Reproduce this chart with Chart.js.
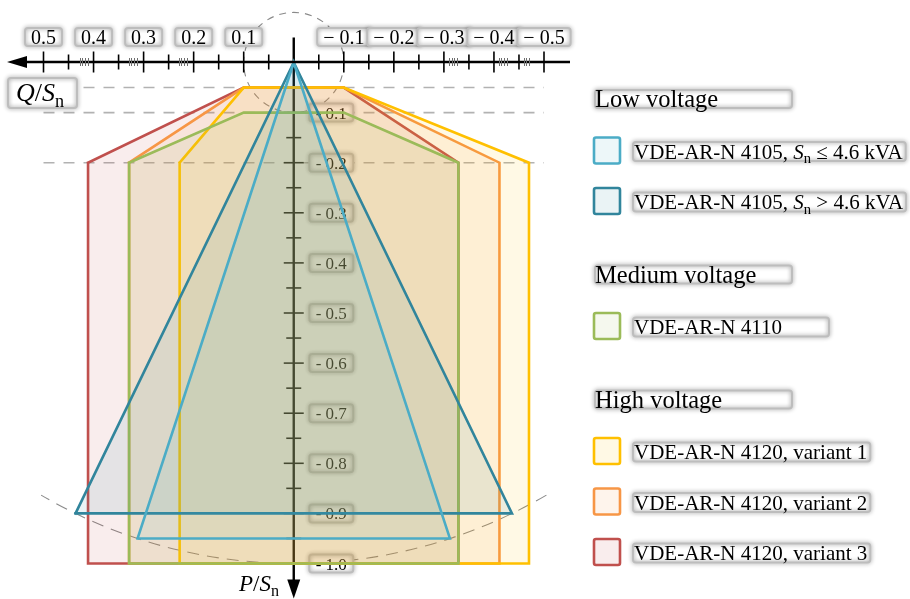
<!DOCTYPE html>
<html>
<head>
<meta charset="utf-8">
<script src="https://cdn.jsdelivr.net/npm/chart.js@4.4.1/dist/chart.umd.min.js"></script>
<style>
  html, body { margin: 0; padding: 0; background: #fff; overflow: hidden; }
  canvas { display: block; }
</style>
</head>
<body>
<canvas id="pq" width="910" height="599"></canvas>
<script>
// Reactive power Q/Sn runs right-to-left across the top, active power P/Sn runs downward.
const qTickValues = [0.5, 0.4, 0.3, 0.2, 0.1, -0.1, -0.2, -0.3, -0.4, -0.5];
const qTickLabels = ['0.5', '0.4', '0.3', '0.2', '0.1', '\u2212 0.1', '\u2212 0.2', '\u2212 0.3', '\u2212 0.4', '\u2212 0.5'];
const qFineTicks = [0.428, 0.423, 0.418, 0.412, 0.330, 0.325, 0.319, 0.314, 0.230, 0.225, 0.220, 0.214,
                    -0.311, -0.316, -0.321, -0.327, -0.410, -0.415, -0.421, -0.426, -0.460, -0.465, -0.470];
const pTickValues = [0.1, 0.2, 0.3, 0.4, 0.5, 0.6, 0.7, 0.8, 0.9, 1.0];
const pTickLabels = ['- 0.1', '- 0.2', '- 0.3', '- 0.4', '- 0.5', '- 0.6', '- 0.7', '- 0.8', '- 0.9', '- 1.0'];
const pGuideLines = [0.05, 0.1, 0.2];
const qAxisTitle = '$Q$/$S_n$';
const pAxisTitle = '$P$/$S_n$';

const groupTitles = ['Low voltage', 'Medium voltage', 'High voltage'];
const seriesLabels = [
  'VDE-AR-N 4105, $S_n$ \u2264 4.6 kVA',
  'VDE-AR-N 4105, $S_n$ > 4.6 kVA',
  'VDE-AR-N 4110',
  'VDE-AR-N 4120, variant 1',
  'VDE-AR-N 4120, variant 2',
  'VDE-AR-N 4120, variant 3'
];
const seriesGroup = [0, 0, 1, 2, 2, 2];
const seriesColors = ['#4bacc6', '#31859c', '#9bbb59', '#ffc000', '#f79646', '#c0504d'];

// Operating ranges as closed polygons (Q/Sn, P/Sn)
const lv4105SmallQ = [0.312, 0, -0.312, 0.312];
const lv4105SmallP = [0.95, 0, 0.95, 0.95];
const lv4105LargeQ = [0.436, 0, -0.436, 0.436];
const lv4105LargeP = [0.90, 0, 0.90, 0.90];
const mv4110Q = [0.329, 0.1, -0.1, -0.329, -0.329, 0.329, 0.329];
const mv4110P = [0.20, 0.10, 0.10, 0.20, 1.0, 1.0, 0.20];
const hv4120v1Q = [0.228, 0.1, -0.1, -0.470, -0.470, 0.228, 0.228];
const hv4120v1P = [0.20, 0.05, 0.05, 0.20, 1.0, 1.0, 0.20];
const hv4120v2Q = [0.329, 0.1, -0.1, -0.411, -0.411, 0.329, 0.329];
const hv4120v2P = [0.20, 0.05, 0.05, 0.20, 1.0, 1.0, 0.20];
const hv4120v3Q = [0.411, 0.1, -0.1, -0.329, -0.329, 0.411, 0.411];
const hv4120v3P = [0.20, 0.05, 0.05, 0.20, 1.0, 1.0, 0.20];

const seriesQ = [lv4105SmallQ, lv4105LargeQ, mv4110Q, hv4120v1Q, hv4120v2Q, hv4120v3Q];
const seriesP = [lv4105SmallP, lv4105LargeP, mv4110P, hv4120v1P, hv4120v2P, hv4120v3P];

const SERIF = '"Liberation Serif", "Times New Roman", serif';

function tint(hex, a) {
  const n = parseInt(hex.slice(1), 16);
  return `rgba(${(n >> 16) & 255}, ${(n >> 8) & 255}, ${n & 255}, ${a})`;
}

// Text with $...$ math parts: letters italic, _x subscript
function parseRich(str) {
  const segs = [];
  str.split('$').forEach((part, i) => {
    if (!part) return;
    if (i % 2 === 0) { segs.push({ text: part, italic: false, sub: false }); return; }
    for (let k = 0; k < part.length; k++) {
      const ch = part[k];
      if (ch === '_') { segs.push({ text: part[k + 1], italic: false, sub: true }); k++; }
      else segs.push({ text: ch, italic: /[A-Za-z]/.test(ch), sub: false });
    }
  });
  return segs;
}
function segFont(seg, size) {
  return (seg.italic ? 'italic ' : '') + (seg.sub ? size * 0.7 : size) + 'px ' + SERIF;
}
function richWidth(ctx, str, size) {
  let w = 0;
  parseRich(str).forEach(s => { ctx.font = segFont(s, size); w += ctx.measureText(s.text).width; });
  return w;
}
function drawRich(ctx, str, x, y, size, color, align) {
  const w = richWidth(ctx, str, size);
  let cx = align === 'center' ? x - w / 2 : align === 'right' ? x - w : x;
  ctx.save();
  ctx.fillStyle = color;
  ctx.textAlign = 'left';
  ctx.textBaseline = 'alphabetic';
  parseRich(str).forEach(s => {
    ctx.font = segFont(s, size);
    ctx.fillText(s.text, cx, y + (s.sub ? size * 0.22 : 0));
    cx += ctx.measureText(s.text).width;
  });
  ctx.restore();
  return w;
}
function roundRectPath(ctx, x, y, w, h, r) {
  ctx.beginPath();
  ctx.moveTo(x + r, y);
  ctx.lineTo(x + w - r, y); ctx.quadraticCurveTo(x + w, y, x + w, y + r);
  ctx.lineTo(x + w, y + h - r); ctx.quadraticCurveTo(x + w, y + h, x + w - r, y + h);
  ctx.lineTo(x + r, y + h); ctx.quadraticCurveTo(x, y + h, x, y + h - r);
  ctx.lineTo(x, y + r); ctx.quadraticCurveTo(x, y, x + r, y);
  ctx.closePath();
}
// Soft-edged label plate
function drawTag(ctx, x, y, w, h) {
  ctx.save();
  roundRectPath(ctx, x, y, w, h, 3);
  ctx.fillStyle = '#ffffff';
  ctx.fill();
  ctx.shadowColor = 'rgba(0,0,0,0.45)';
  ctx.shadowBlur = 4;
  ctx.strokeStyle = '#bdbdbd';
  ctx.lineWidth = 2;
  ctx.stroke();
  ctx.restore();
}

// Guides, the P axis and its labels sit beneath the translucent ranges
const underlayPlugin = {
  id: 'underlay',
  beforeDatasetsDraw(chart) {
    const ctx = chart.ctx, xs = chart.scales.x, ys = chart.scales.y;
    const x0 = xs.getPixelForValue(0), y0 = ys.getPixelForValue(0);
    const R = ys.getPixelForValue(1) - y0;
    ctx.save();
    // horizontal guides
    ctx.strokeStyle = '#b2b2b2';
    ctx.lineWidth = 1.6;
    ctx.setLineDash([11, 9]);
    pGuideLines.forEach(p => {
      const y = ys.getPixelForValue(p);
      ctx.beginPath();
      ctx.moveTo(xs.getPixelForValue(0.5), y);
      ctx.lineTo(xs.getPixelForValue(-0.5), y);
      ctx.stroke();
    });
    // circles |S| = 0.1 and |S| = 1
    ctx.strokeStyle = '#8a8a8a';
    ctx.lineWidth = 1.1;
    ctx.setLineDash([7, 6]);
    ctx.beginPath();
    ctx.arc(x0, y0, 0.1 * R, 0, Math.PI * 2);
    ctx.stroke();
    ctx.setLineDash([12, 8]);
    ctx.beginPath();
    ctx.arc(x0, y0, R, Math.PI / 3 - 0.005, 2 * Math.PI / 3 + 0.005);
    ctx.stroke();
    ctx.setLineDash([]);
    // P axis
    ctx.strokeStyle = '#000';
    ctx.lineWidth = 2.4;
    ctx.beginPath();
    ctx.moveTo(x0, y0 - 25);
    ctx.lineTo(x0, ys.getPixelForValue(1) + 20);
    ctx.stroke();
    ctx.lineWidth = 1.6;
    for (let k = 1; k <= 20; k++) {
      const y = ys.getPixelForValue(k * 0.05);
      const major = k % 2 === 0;
      ctx.beginPath();
      ctx.moveTo(x0 - (major ? 10 : 7.5), y);
      ctx.lineTo(x0 + (major ? 10 : 7.5), y);
      ctx.stroke();
    }
    pTickValues.forEach((p, i) => {
      const y = ys.getPixelForValue(p);
      drawTag(ctx, x0 + 15.5, y - 9, 44, 18);
      drawRich(ctx, pTickLabels[i], x0 + 37.5, y + 6, 17, '#000', 'center');
    });
    ctx.restore();
  },
  beforeDatasetDraw(chart, args) {
    const ctx = chart.ctx;
    const ds = chart.data.datasets[args.index];
    const pts = args.meta.data;
    ctx.save();
    ctx.beginPath();
    pts.forEach((pt, k) => (k ? ctx.lineTo(pt.x, pt.y) : ctx.moveTo(pt.x, pt.y)));
    ctx.closePath();
    ctx.fillStyle = ds.backgroundColor;
    ctx.fill();
    ctx.restore();
  }
};

// Q axis, arrows, axis titles
const overlayPlugin = {
  id: 'overlay',
  afterDatasetsDraw(chart) {
    const ctx = chart.ctx, xs = chart.scales.x, ys = chart.scales.y;
    const x0 = xs.getPixelForValue(0), y0 = ys.getPixelForValue(0);
    const xl = xs.getPixelForValue(0.5), xr = xs.getPixelForValue(-0.5);
    ctx.save();
    ctx.strokeStyle = '#000';
    ctx.fillStyle = '#000';
    ctx.lineWidth = 2.4;
    ctx.beginPath();
    ctx.moveTo(xl - 18, y0 - 0.5);
    ctx.lineTo(xr + 26, y0 - 0.5);
    ctx.stroke();
    // arrow heads
    ctx.beginPath();
    ctx.moveTo(xl - 36.5, y0 - 0.5);
    ctx.lineTo(xl - 16.5, y0 - 6.5);
    ctx.lineTo(xl - 16.5, y0 + 5.5);
    ctx.closePath();
    ctx.fill();
    const yb = ys.getPixelForValue(1);
    ctx.beginPath();
    ctx.moveTo(x0, yb + 35);
    ctx.lineTo(x0 - 6.5, yb + 16);
    ctx.lineTo(x0 + 6.5, yb + 16);
    ctx.closePath();
    ctx.fill();
    // Q ticks
    ctx.lineWidth = 1.6;
    for (let k = -10; k <= 10; k++) {
      if (k === 0) continue;
      const x = xs.getPixelForValue(k * 0.05);
      const h = k % 2 === 0 ? 10.5 : 7.5;
      ctx.beginPath();
      ctx.moveTo(x, y0 - 0.5 - h);
      ctx.lineTo(x, y0 - 0.5 + h);
      ctx.stroke();
    }
    ctx.strokeStyle = '#6e6e6e';
    ctx.lineWidth = 1;
    qFineTicks.forEach(q => {
      const x = Math.round(xs.getPixelForValue(q)) + 0.5;
      ctx.beginPath();
      ctx.moveTo(x, y0 - 4.5);
      ctx.lineTo(x, y0 + 3.5);
      ctx.stroke();
    });
    // Q tick labels
    qTickValues.forEach((q, i) => {
      const x = xs.getPixelForValue(q);
      const w = richWidth(ctx, qTickLabels[i], 20) + 12;
      drawTag(ctx, x - w / 2, 28, w, 18);
      drawRich(ctx, qTickLabels[i], x, 44, 20, '#000', 'center');
    });
    // axis titles
    drawTag(ctx, 8, 78, 69, 30);
    drawRich(ctx, qAxisTitle, 40, 101, 26, '#000', 'center');
    drawRich(ctx, pAxisTitle, 279, 591, 23, '#000', 'right');
    ctx.restore();
  }
};

// Grouped legend on the right
const groupedLegendPlugin = {
  id: 'groupedLegend',
  afterDraw(chart) {
    const ctx = chart.ctx;
    const sets = chart.data.datasets;
    let y = 100;
    groupTitles.forEach((title, g) => {
      drawTag(ctx, 595, y - 10, 197, 18);
      drawRich(ctx, title, 595, y + 7, 24.5, '#000', 'left');
      y += 50.5;
      sets.forEach((ds, i) => {
        if (seriesGroup[i] !== g) return;
        ctx.save();
        roundRectPath(ctx, 594, y - 13, 26, 26, 2);
        ctx.fillStyle = '#fff';
        ctx.fill();
        ctx.fillStyle = ds.backgroundColor;
        ctx.fill();
        ctx.strokeStyle = ds.borderColor;
        ctx.lineWidth = 2.6;
        ctx.stroke();
        ctx.restore();
        const w = richWidth(ctx, ds.label, 21);
        drawTag(ctx, 633, y - 8.5, Math.max(196, w + 4), 19);
        drawRich(ctx, ds.label, 634, y + 8, 21, '#000', 'left');
        y += 50.5;
      });
      y += 24;
    });
  }
};

new Chart(document.getElementById('pq'), {
  type: 'scatter',
  data: {
    datasets: seriesLabels.map((label, i) => ({
      label,
      data: seriesQ[i].map((q, k) => ({ x: q, y: seriesP[i][k] })),
      showLine: true,
      fill: false,
      tension: 0,
      borderColor: seriesColors[i],
      backgroundColor: tint(seriesColors[i], 0.1),
      borderWidth: 2.6,
      borderJoinStyle: 'miter',
      borderCapStyle: 'square',
      pointRadius: 0,
      pointHoverRadius: 0,
      clip: false
    }))
  },
  options: {
    responsive: false,
    animation: false,
    events: [],
    devicePixelRatio: 1,
    layout: { padding: { left: 43.5, right: 366, top: 62.5, bottom: 35.5 } },
    scales: {
      x: { type: 'linear', min: -0.5, max: 0.5, reverse: true, display: false },
      y: { type: 'linear', min: 0, max: 1, reverse: true, display: false }
    },
    plugins: { legend: { display: false }, tooltip: { enabled: false } }
  },
  plugins: [underlayPlugin, overlayPlugin, groupedLegendPlugin]
});
</script>
</body>
</html>
